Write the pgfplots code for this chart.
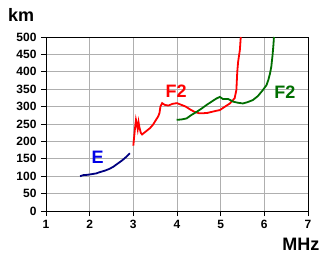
\documentclass[border=0pt]{standalone}
\usepackage{pgfplots}
\pgfplotsset{compat=1.18}
\usepackage{fontspec}
\setmainfont{Liberation Sans}
\definecolor{eblue}{RGB}{0,0,128}
\definecolor{elabel}{RGB}{0,0,230}
\definecolor{fred}{RGB}{255,0,0}
\definecolor{fgreen}{RGB}{0,110,0}
\definecolor{gridg}{RGB}{175,175,175}
\begin{document}
\begin{tikzpicture}[x=1pt,y=1pt]
\path (0,0) rectangle (326,258);
\begin{axis}[
  at={(46pt,47pt)}, anchor=south west,
  scale only axis, width=262pt, height=174pt,
  xmin=1, xmax=7, ymin=0, ymax=500,
  xtick={1,...,7}, ytick={0,50,...,500},
  grid=major,
  major grid style={gridg, line width=0.9pt},
  axis line style={black, line width=0.8pt},
  tick style={black, line width=0.8pt},
  tick align=outside, major tick length=5pt,
  xtick pos=bottom, ytick pos=left,
  /pgf/number format/assume math mode=true,
  ticklabel style={font=\fontsize{12}{12}\selectfont\bfseries},
  xticklabel style={yshift=-1pt},
  yticklabel style={xshift=-1pt},
  xlabel={MHz}, ylabel={km},
  xlabel style={font=\fontsize{18}{18}\selectfont\bfseries, at={(rel axis cs:0.973,-0.19)}, anchor=center},
  ylabel style={font=\fontsize{18}{18}\selectfont\bfseries, at={(rel axis cs:-0.095,1.126)}, anchor=center, rotate=-90},
  clip=false,
]
\addplot[eblue, line width=1.8pt] coordinates {
(1.78,100) (1.85,103) (1.95,104) (2.05,106) (2.15,108) (2.24,112) (2.35,116) (2.45,121) (2.54,127) (2.65,137) (2.75,146) (2.85,157) (2.92,166)
};
\addplot[fred, line width=1.8pt] coordinates {
(3.00,188) (3.02,215) (3.04,240) (3.06,262) (3.08,250) (3.10,235) (3.12,255) (3.14,240) (3.17,225) (3.20,220) (3.25,225) (3.30,230) (3.38,238) (3.45,248) (3.52,262) (3.57,272) (3.60,282) (3.62,300) (3.66,310) (3.72,305) (3.80,303) (3.90,308) (4.00,310) (4.10,305) (4.20,300) (4.30,292) (4.40,285) (4.50,281) (4.60,281) (4.70,282) (4.80,285) (4.90,288) (4.98,290) (5.10,300) (5.21,309) (5.32,324) (5.36,348) (5.38,400) (5.40,429) (5.44,463) (5.46,500)
};
\addplot[fgreen, line width=1.8pt] coordinates {
(3.99,262) (4.10,263) (4.22,266) (4.33,276) (4.45,285) (4.57,295) (4.68,305) (4.80,315) (4.90,323) (4.98,328) (5.05,322) (5.17,322) (5.29,314) (5.40,311) (5.51,309) (5.62,313) (5.74,319) (5.85,330) (5.97,348) (6.05,362) (6.09,376) (6.13,395) (6.16,415) (6.19,450) (6.21,480) (6.22,500)
};
\node[elabel, font=\fontsize{18}{18}\selectfont\bfseries] at (axis cs:2.18,155) {E};
\node[fred, font=\fontsize{18}{18}\selectfont\bfseries] at (axis cs:3.98,343) {F2};
\node[fgreen, font=\fontsize{18}{18}\selectfont\bfseries] at (axis cs:6.47,341) {F2};
\end{axis}
\end{tikzpicture}
\end{document}
